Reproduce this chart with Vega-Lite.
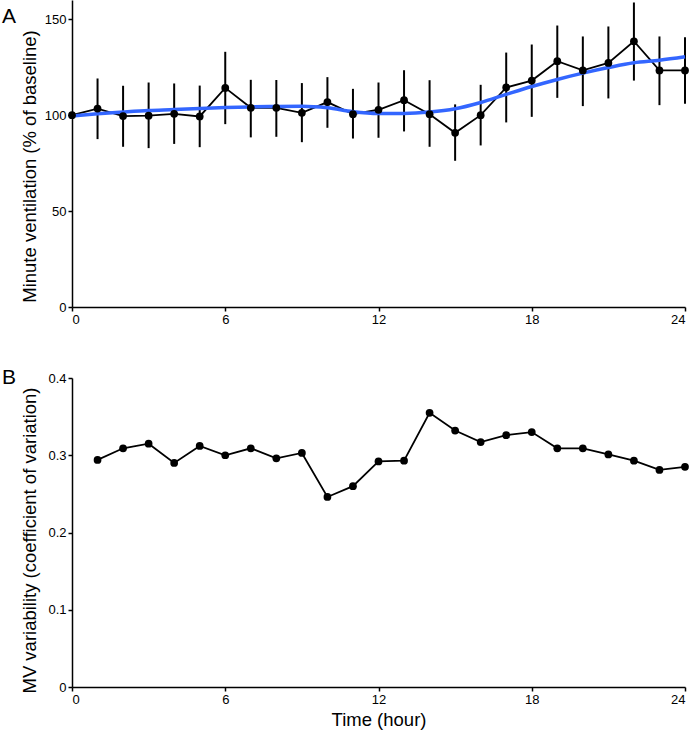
{
  "$schema": "https://vega.github.io/schema/vega-lite/v6.json",
  "padding": {"left": 2, "top": 0, "right": 8, "bottom": 2},
  "background": "white",
  "config": {
    "view": {"stroke": null},
    "font": "Liberation Sans",
    "axis": {
      "labelFont": "Liberation Sans", "labelFontSize": 13, "labelColor": "black",
      "titleFont": "Liberation Sans", "titleFontSize": 18.5, "titleFontWeight": "normal", "titleColor": "black",
      "domainColor": "black", "domainWidth": 1.5, "tickColor": "black", "tickWidth": 1.5, "tickSize": 4,
      "grid": false, "labelPadding": 2
    },
    "concat": {"spacing": 41}
  },
  "datasets": {
    "mv": [
      {"hour": 0, "mean": 100.0},
      {"hour": 1, "mean": 103.4, "lo": 87.5, "hi": 119.1},
      {"hour": 2, "mean": 99.5, "lo": 83.5, "hi": 115.3},
      {"hour": 3, "mean": 99.7, "lo": 82.8, "hi": 117.0},
      {"hour": 4, "mean": 100.7, "lo": 85.0, "hi": 116.5},
      {"hour": 5, "mean": 99.3, "lo": 83.3, "hi": 115.4},
      {"hour": 6, "mean": 114.2, "lo": 95.3, "hi": 133.0},
      {"hour": 7, "mean": 103.8, "lo": 88.4, "hi": 118.4},
      {"hour": 8, "mean": 103.8, "lo": 88.7, "hi": 118.3},
      {"hour": 9, "mean": 101.2, "lo": 85.9, "hi": 116.7},
      {"hour": 10, "mean": 106.8, "lo": 93.4, "hi": 119.8},
      {"hour": 11, "mean": 100.5, "lo": 87.8, "hi": 113.7},
      {"hour": 12, "mean": 102.8, "lo": 88.2, "hi": 117.0},
      {"hour": 13, "mean": 107.8, "lo": 91.5, "hi": 123.4},
      {"hour": 14, "mean": 100.5, "lo": 83.5, "hi": 118.2},
      {"hour": 15, "mean": 90.8, "lo": 76.2, "hi": 105.6},
      {"hour": 16, "mean": 100.0, "lo": 84.2, "hi": 115.8},
      {"hour": 17, "mean": 114.4, "lo": 96.2, "hi": 132.6},
      {"hour": 18, "mean": 118.0, "lo": 99.1, "hi": 136.8},
      {"hour": 19, "mean": 128.1, "lo": 109.0, "hi": 146.7},
      {"hour": 20, "mean": 123.3, "lo": 104.7, "hi": 141.0},
      {"hour": 21, "mean": 127.2, "lo": 108.7, "hi": 146.2},
      {"hour": 22, "mean": 138.5, "lo": 118.0, "hi": 158.7},
      {"hour": 23, "mean": 123.3, "lo": 105.2, "hi": 141.0},
      {"hour": 24, "mean": 123.3, "lo": 105.9, "hi": 140.6}
    ],
    "smooth": [
      {"hour": 0, "fit": 99.6}, {"hour": 1, "fit": 100.7}, {"hour": 2, "fit": 101.6},
      {"hour": 3, "fit": 102.4}, {"hour": 4, "fit": 102.9}, {"hour": 5, "fit": 103.5},
      {"hour": 6, "fit": 104.0}, {"hour": 7, "fit": 104.3}, {"hour": 8, "fit": 104.5},
      {"hour": 9, "fit": 104.6}, {"hour": 10, "fit": 103.8}, {"hour": 11, "fit": 101.8},
      {"hour": 12, "fit": 100.9}, {"hour": 13, "fit": 100.9}, {"hour": 14, "fit": 101.6},
      {"hour": 15, "fit": 103.3}, {"hour": 16, "fit": 106.6}, {"hour": 17, "fit": 110.8},
      {"hour": 18, "fit": 114.9}, {"hour": 19, "fit": 118.6}, {"hour": 20, "fit": 121.9},
      {"hour": 21, "fit": 124.8}, {"hour": 22, "fit": 127.3}, {"hour": 23, "fit": 128.6},
      {"hour": 24, "fit": 130.4}
    ],
    "cv": [
      {"hour": 1, "cv": 0.294}, {"hour": 2, "cv": 0.309}, {"hour": 3, "cv": 0.315},
      {"hour": 4, "cv": 0.290}, {"hour": 5, "cv": 0.312}, {"hour": 6, "cv": 0.300},
      {"hour": 7, "cv": 0.309}, {"hour": 8, "cv": 0.296}, {"hour": 9, "cv": 0.303},
      {"hour": 10, "cv": 0.246}, {"hour": 11, "cv": 0.260}, {"hour": 12, "cv": 0.292},
      {"hour": 13, "cv": 0.293}, {"hour": 14, "cv": 0.355}, {"hour": 15, "cv": 0.332},
      {"hour": 16, "cv": 0.317}, {"hour": 17, "cv": 0.326}, {"hour": 18, "cv": 0.330},
      {"hour": 19, "cv": 0.309}, {"hour": 20, "cv": 0.309}, {"hour": 21, "cv": 0.301},
      {"hour": 22, "cv": 0.293}, {"hour": 23, "cv": 0.281}, {"hour": 24, "cv": 0.285}
    ]
  },
  "vconcat": [
    {
      "width": 613,
      "height": 307,
      "title": {"text": "A", "anchor": "start", "frame": "bounds", "offset": -27, "dx": -18, "fontSize": 21, "fontWeight": "normal", "font": "Liberation Sans", "color": "black"},
      "layer": [
        {
          "data": {"name": "mv"},
          "transform": [{"filter": "datum.lo != null"}],
          "mark": {"type": "rule", "color": "black", "strokeWidth": 2},
          "encoding": {
            "x": {"field": "hour", "type": "quantitative", "scale": {"domain": [0, 24], "nice": false}, "axis": {"values": [0, 6, 12, 18, 24], "title": null}},
            "y": {"field": "lo", "type": "quantitative", "scale": {"domain": [0, 160], "nice": false}, "axis": {"values": [0, 50, 100, 150], "title": "Minute ventilation (% of baseline)", "minExtent": 30, "maxExtent": 30, "titlePadding": 3, "titleY": 166}},
            "y2": {"field": "hi"}
          }
        },
        {
          "data": {"name": "mv"},
          "mark": {"type": "line", "color": "black", "strokeWidth": 1.8},
          "encoding": {
            "x": {"field": "hour", "type": "quantitative"},
            "y": {"field": "mean", "type": "quantitative"}
          }
        },
        {
          "data": {"name": "smooth"},
          "mark": {"type": "line", "color": "#3366FF", "strokeWidth": 3.5, "interpolate": "monotone"},
          "encoding": {
            "x": {"field": "hour", "type": "quantitative"},
            "y": {"field": "fit", "type": "quantitative"}
          }
        },
        {
          "data": {"name": "mv"},
          "mark": {"type": "point", "filled": true, "color": "black", "opacity": 1, "size": 60},
          "encoding": {
            "x": {"field": "hour", "type": "quantitative"},
            "y": {"field": "mean", "type": "quantitative"}
          }
        }
      ]
    },
    {
      "width": 613,
      "height": 309,
      "title": {"text": "B", "anchor": "start", "frame": "bounds", "offset": -16, "dx": -18, "fontSize": 21, "fontWeight": "normal", "font": "Liberation Sans", "color": "black"},
      "data": {"name": "cv"},
      "layer": [
        {
          "mark": {"type": "line", "color": "black", "strokeWidth": 1.8},
          "encoding": {
            "x": {"field": "hour", "type": "quantitative", "scale": {"domain": [0, 24], "nice": false}, "axis": {"values": [0, 6, 12, 18, 24], "title": "Time (hour)", "titlePadding": 4}},
            "y": {"field": "cv", "type": "quantitative", "scale": {"domain": [0, 0.4], "nice": false}, "axis": {"values": [0, 0.1, 0.2, 0.3, 0.4], "format": "~g", "title": "MV variability (coefficient of variation)", "minExtent": 30, "maxExtent": 30, "titlePadding": 3, "titleY": 162}}
          }
        },
        {
          "mark": {"type": "point", "filled": true, "color": "black", "opacity": 1, "size": 60},
          "encoding": {
            "x": {"field": "hour", "type": "quantitative"},
            "y": {"field": "cv", "type": "quantitative"}
          }
        }
      ]
    }
  ]
}
